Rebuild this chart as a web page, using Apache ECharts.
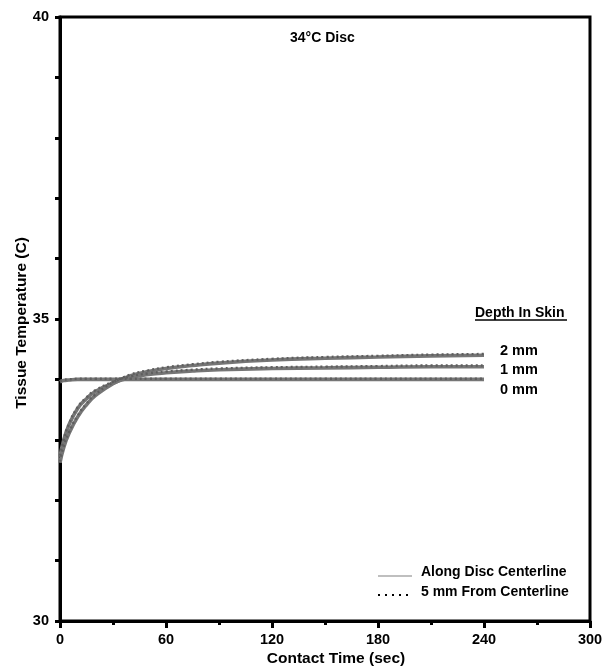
<!DOCTYPE html>
<html>
<head>
<meta charset="utf-8">
<script src="https://cdn.jsdelivr.net/npm/echarts@6/dist/echarts.min.js"></script>
<style>
html,body{margin:0;padding:0;background:#fff;}
#c{width:610px;height:670px;}
</style>
</head>
<body>
<div id="c"></div>
<script>
// ---- data ----
var times = [0, 2, 5, 10, 15, 20, 30, 40, 50, 60, 75, 90, 120, 150, 180, 210, 240];
var center0mm = [33.96, 33.98, 33.99, 34.0, 34.0, 34.0, 34.0, 34.0, 34.0, 34.0, 34.0, 34.0, 34.0, 34.0, 34.0, 34.0, 34.0];
var center1mm = [32.72, 32.98, 33.24, 33.52, 33.68, 33.8, 33.94, 34.03, 34.08, 34.11, 34.14, 34.16, 34.18, 34.19, 34.2, 34.21, 34.21];
var center2mm = [32.62, 32.86, 33.1, 33.38, 33.58, 33.73, 33.93, 34.06, 34.13, 34.18, 34.23, 34.27, 34.32, 34.35, 34.37, 34.39, 34.4];
var off0mm = [33.97, 33.99, 34.0, 34.01, 34.01, 34.01, 34.01, 34.01, 34.01, 34.01, 34.01, 34.01, 34.01, 34.01, 34.01, 34.01, 34.01];
var off1mm = [32.74, 33.0, 33.26, 33.54, 33.7, 33.82, 33.96, 34.05, 34.1, 34.13, 34.16, 34.18, 34.2, 34.21, 34.22, 34.23, 34.23];
var off2mm = [32.64, 32.88, 33.12, 33.4, 33.6, 33.75, 33.95, 34.08, 34.15, 34.2, 34.25, 34.29, 34.34, 34.37, 34.39, 34.41, 34.42];
var xTicks = [0, 60, 120, 180, 240, 300];
var yTickLabels = [30, 35, 40];
var depthLabels = ['2 mm', '1 mm', '0 mm'];
var legendLabels = ['Along Disc Centerline', '5 mm From Centerline'];
var chartTitle = '34°C Disc';
var xTitle = 'Contact Time (sec)';
var yTitle = 'Tissue Temperature (C)';
var depthTitle = 'Depth In Skin';

function pairs(ys){ return times.map(function(t,i){ return [t, ys[i]]; }); }

var FONT = '"Liberation Sans", Arial, Helvetica, sans-serif';
var GREY = '#767676';

function solid(name, ys){
  return {name:name, type:'line', data:pairs(ys), showSymbol:false, smooth:true, z:2,
    lineStyle:{color:GREY, width:3.6, type:'solid'}};
}
function dotted(name, ys){
  return {name:name, type:'line', data:pairs(ys), showSymbol:false, smooth:true, z:3,
    lineStyle:{color:'#5e5e5e', width:2.4, type:[2,3]}};
}

var chart = echarts.init(document.getElementById('c'), null, {renderer:'canvas'});
chart.setOption({
  animation:false,
  backgroundColor:'#fff',
  grid:{left:60, right:20, top:17, bottom:49, show:true, borderColor:'#000', borderWidth:3, backgroundColor:'transparent'},
  xAxis:{
    type:'value', min:0, max:300, interval:60,
    axisLine:{show:true, lineStyle:{color:'#000', width:3}},
    axisTick:{show:true, inside:false, length:7, lineStyle:{color:'#000', width:3}},
    minorTick:{show:true, splitNumber:2, length:4, lineStyle:{color:'#000', width:3}},
    splitLine:{show:false},
    axisLabel:{margin:11, color:'#000', fontFamily:FONT, fontWeight:'bold', fontSize:14.5,
      formatter:function(v){ return xTicks.indexOf(v) >= 0 ? String(v) : ''; }}
  },
  yAxis:{
    type:'value', min:30, max:40, interval:1,
    axisLine:{show:true, lineStyle:{color:'#000', width:3}},
    axisTick:{show:true, inside:false, length:5, lineStyle:{color:'#000', width:3}},
    splitLine:{show:false},
    axisLabel:{margin:11, color:'#000', fontFamily:FONT, fontWeight:'bold', fontSize:14.5,
      formatter:function(v){ return yTickLabels.indexOf(v) >= 0 ? String(v) : ''; }}
  },
  series:[
    solid('c0', center0mm), solid('c1', center1mm), solid('c2', center2mm),
    dotted('o0', off0mm), dotted('o1', off1mm), dotted('o2', off2mm)
  ],
  graphic:[
    {type:'text', left:290, top:31, style:{text:chartTitle, font:'bold 14px '+FONT, fill:'#000'}},
    {type:'text', x:336, y:659, style:{text:xTitle, font:'bold 15.5px '+FONT, fill:'#000', textAlign:'center', textVerticalAlign:'middle'}},
    {type:'text', x:22, y:323, rotation:Math.PI/2, style:{text:yTitle, font:'bold 15.5px '+FONT, fill:'#000', textAlign:'center', textVerticalAlign:'middle'}},
    {type:'text', x:475, y:313, style:{text:depthTitle, font:'bold 14px '+FONT, fill:'#000', textVerticalAlign:'middle'}},
    {type:'line', shape:{x1:475, y1:320, x2:567, y2:320}, style:{stroke:'#000', lineWidth:1.5}},
    {type:'text', x:500, y:351, style:{text:depthLabels[0], font:'bold 14.5px '+FONT, fill:'#000', textVerticalAlign:'middle'}},
    {type:'text', x:500, y:370, style:{text:depthLabels[1], font:'bold 14.5px '+FONT, fill:'#000', textVerticalAlign:'middle'}},
    {type:'text', x:500, y:390, style:{text:depthLabels[2], font:'bold 14.5px '+FONT, fill:'#000', textVerticalAlign:'middle'}},
    {type:'line', shape:{x1:378, y1:576, x2:412, y2:576}, style:{stroke:'#aaa', lineWidth:1.5}},
    {type:'text', x:421, y:572, style:{text:legendLabels[0], font:'bold 14px '+FONT, fill:'#000', textVerticalAlign:'middle'}},
    {type:'line', shape:{x1:378, y1:595, x2:412, y2:595}, style:{stroke:'#000', lineWidth:2, lineDash:[2,5]}},
    {type:'text', x:421, y:592, style:{text:legendLabels[1], font:'bold 14px '+FONT, fill:'#000', textVerticalAlign:'middle'}}
  ]
});
</script>
</body>
</html>
